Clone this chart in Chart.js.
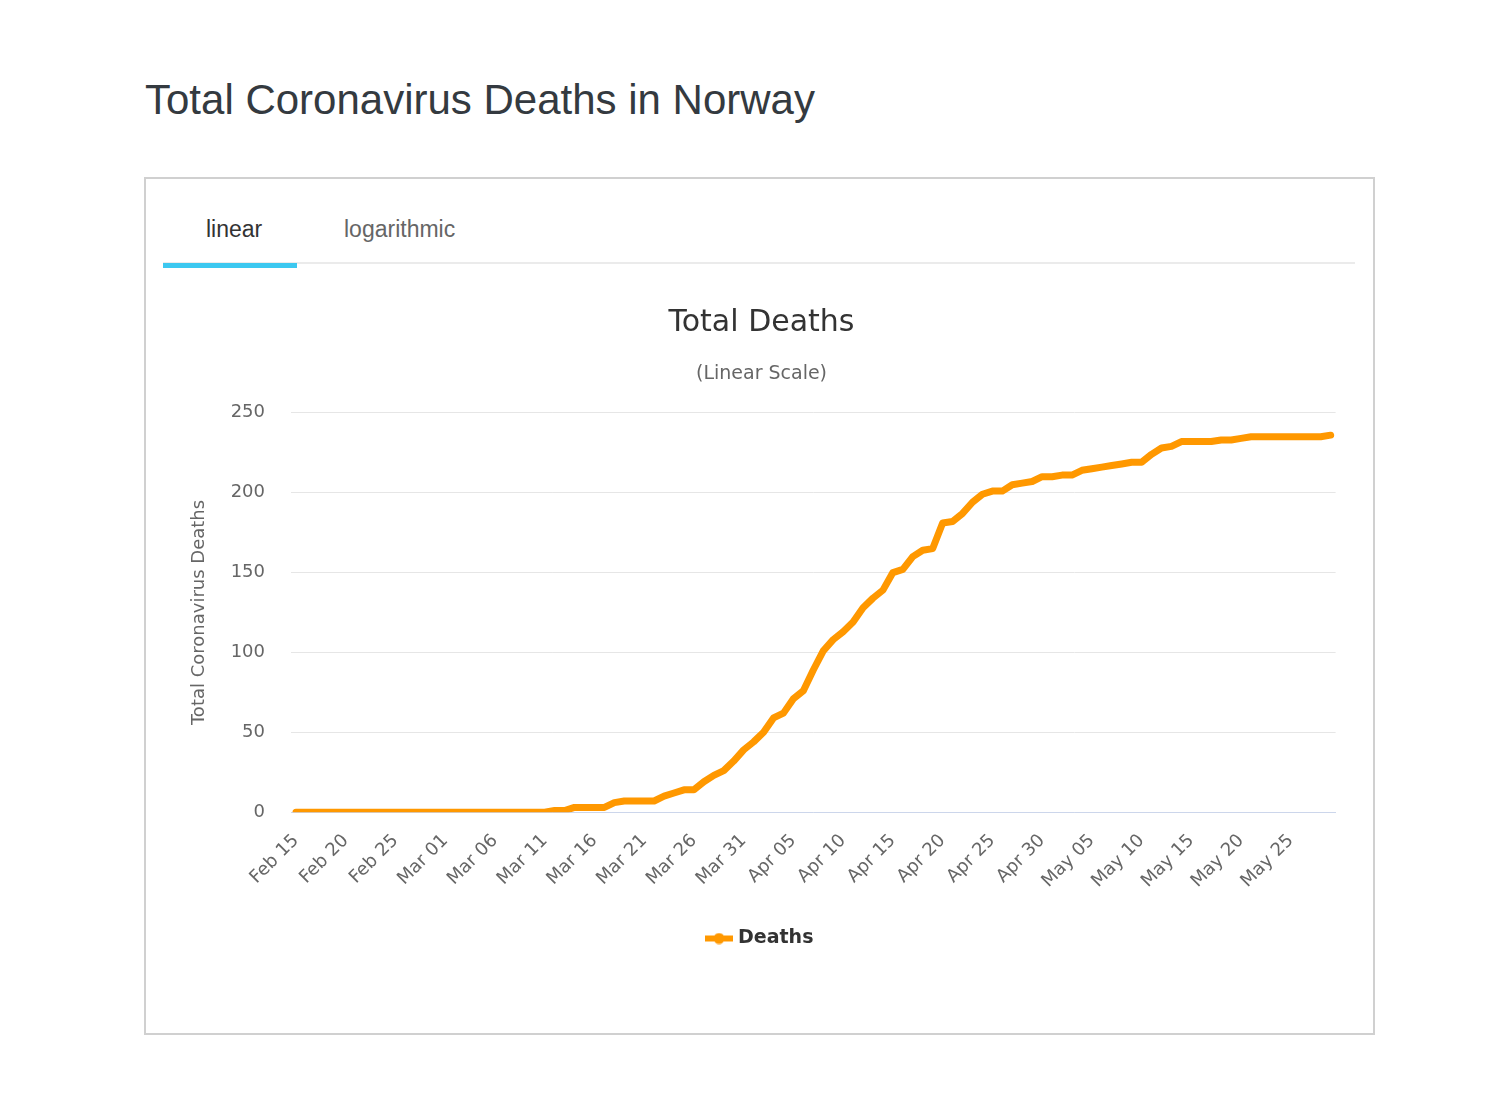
<!DOCTYPE html>
<html>
<head>
<meta charset="utf-8">
<script src="https://cdn.jsdelivr.net/npm/chart.js@4.4.1/dist/chart.umd.min.js"></script>
<style>
    html, body { margin: 0; padding: 0; background: #fff; }
    body { width: 1489px; height: 1110px; position: relative; font-family: "Liberation Sans", Arial, sans-serif; }
    h1 { position: absolute; left: 145px; top: 76px; margin: 0; font-size: 42px; font-weight: normal; color: #343a40; }
    .panel { position: absolute; left: 144px; top: 177px; width: 1227px; height: 854px; border: 2px solid #d0d0d0; }
    .tabs { position: absolute; left: 163px; top: 200px; width: 1192px; height: 62px; border-bottom: 2px solid #ebebeb; }
    .tab { position: absolute; top: 16px; font-size: 23px; }
    .tab.active { left: 43px; color: #333; }
    .tab.other { left: 181px; color: #666; }
    .tab-bar { position: absolute; left: 163px; top: 263px; width: 134px; height: 5px; background: #3cc8f0; }
    .chart-box { position: absolute; left: 163px; top: 280px; width: 1193px; height: 690px; }
</style>
</head>
<body>
<h1>Total Coronavirus Deaths in Norway</h1>
<div class="panel"></div>
<div class="tabs">
    <span class="tab active">linear</span>
    <span class="tab other">logarithmic</span>
</div>
<div class="tab-bar"></div>
<div class="chart-box"><canvas id="deaths-chart"></canvas></div>
<script>
const dates = [
    'Feb 15', 'Feb 16', 'Feb 17', 'Feb 18', 'Feb 19', 'Feb 20', 'Feb 21', 'Feb 22', 'Feb 23', 'Feb 24',
    'Feb 25', 'Feb 26', 'Feb 27', 'Feb 28', 'Feb 29', 'Mar 01', 'Mar 02', 'Mar 03', 'Mar 04', 'Mar 05',
    'Mar 06', 'Mar 07', 'Mar 08', 'Mar 09', 'Mar 10', 'Mar 11', 'Mar 12', 'Mar 13', 'Mar 14', 'Mar 15',
    'Mar 16', 'Mar 17', 'Mar 18', 'Mar 19', 'Mar 20', 'Mar 21', 'Mar 22', 'Mar 23', 'Mar 24', 'Mar 25',
    'Mar 26', 'Mar 27', 'Mar 28', 'Mar 29', 'Mar 30', 'Mar 31', 'Apr 01', 'Apr 02', 'Apr 03', 'Apr 04',
    'Apr 05', 'Apr 06', 'Apr 07', 'Apr 08', 'Apr 09', 'Apr 10', 'Apr 11', 'Apr 12', 'Apr 13', 'Apr 14',
    'Apr 15', 'Apr 16', 'Apr 17', 'Apr 18', 'Apr 19', 'Apr 20', 'Apr 21', 'Apr 22', 'Apr 23', 'Apr 24',
    'Apr 25', 'Apr 26', 'Apr 27', 'Apr 28', 'Apr 29', 'Apr 30', 'May 01', 'May 02', 'May 03', 'May 04',
    'May 05', 'May 06', 'May 07', 'May 08', 'May 09', 'May 10', 'May 11', 'May 12', 'May 13', 'May 14',
    'May 15', 'May 16', 'May 17', 'May 18', 'May 19', 'May 20', 'May 21', 'May 22', 'May 23', 'May 24',
    'May 25', 'May 26', 'May 27', 'May 28', 'May 29'
];

const deaths = [
    0, 0, 0, 0, 0, 0, 0, 0, 0, 0,
    0, 0, 0, 0, 0, 0, 0, 0, 0, 0,
    0, 0, 0, 0, 0, 0, 1, 1, 3, 3,
    3, 3, 6, 7, 7, 7, 7, 10, 12, 14,
    14, 19, 23, 26, 32, 39, 44, 50, 59, 62,
    71, 76, 89, 101, 108, 113, 119, 128, 134, 139,
    150, 152, 160, 164, 165, 181, 182, 187, 194, 199,
    201, 201, 205, 206, 207, 210, 210, 211, 211, 214,
    215, 216, 217, 218, 219, 219, 224, 228, 229, 232,
    232, 232, 232, 233, 233, 234, 235, 235, 235, 235,
    235, 235, 235, 235, 236
];

const yTicks = [0, 50, 100, 150, 200, 250];

const ORANGE = '#ff9800';
const TEXT_FONT = '"DejaVu Sans", "Open Sans", sans-serif';

// legend marker: short thick line with a dot in the middle
function legendMarker() {
    const c = document.createElement('canvas');
    c.width = 28;
    c.height = 12;
    const ctx = c.getContext('2d');
    ctx.fillStyle = ORANGE;
    ctx.fillRect(0, 3, 28, 6);
    ctx.beginPath();
    ctx.arc(14, 6, 5.5, 0, Math.PI * 2);
    ctx.fill();
    return c;
}

new Chart(document.getElementById('deaths-chart'), {
    type: 'line',
    data: {
        labels: dates,
        datasets: [{
            label: 'Deaths',
            data: deaths,
            borderColor: ORANGE,
            backgroundColor: ORANGE,
            borderWidth: 7,
            pointRadius: 0,
            pointHoverRadius: 0,
            borderCapStyle: 'round',
            borderJoinStyle: 'round',
            tension: 0,
            fill: false
        }]
    },
    options: {
        responsive: true,
        maintainAspectRatio: false,
        animation: false,
        layout: { padding: { left: 22, right: 18, bottom: 12 } },
        plugins: {
            title: {
                display: true,
                text: 'Total Deaths',
                color: '#333',
                font: { family: TEXT_FONT, size: 30, weight: 'normal' },
                padding: { top: 25, bottom: 12 }
            },
            subtitle: {
                display: true,
                text: '(Linear Scale)',
                color: '#666',
                font: { family: TEXT_FONT, size: 19 },
                padding: { top: 10, bottom: 27 }
            },
            legend: {
                position: 'bottom',
                labels: {
                    usePointStyle: true,
                    pointStyle: legendMarker(),
                    color: '#333',
                    font: { family: TEXT_FONT, size: 19, weight: 'bold' },
                    padding: 27
                }
            },
            tooltip: { enabled: false }
        },
        scales: {
            x: {
                offset: true,
                grid: { display: false },
                border: { display: true, color: '#ccd6eb', width: 1 },
                ticks: {
                    autoSkip: false,
                    maxRotation: 45,
                    minRotation: 45,
                    padding: 10,
                    color: '#666',
                    font: { family: TEXT_FONT, size: 18 },
                    callback: (v, i) => (i % 5 === 0 ? dates[i] : '')
                }
            },
            y: {
                min: 0,
                max: 250,
                afterBuildTicks: axis => { axis.ticks = yTicks.map(v => ({ value: v })); },
                afterFit: axis => { axis.width = 106; },
                grid: { color: '#e6e6e6', drawTicks: false },
                border: { display: false },
                ticks: {
                    padding: 26,
                    color: '#666',
                    font: { family: TEXT_FONT, size: 18 }
                },
                title: {
                    display: true,
                    text: 'Total Coronavirus Deaths',
                    color: '#666',
                    font: { family: TEXT_FONT, size: 18 },
                    padding: 4
                }
            }
        }
    }
});
</script>
</body>
</html>
